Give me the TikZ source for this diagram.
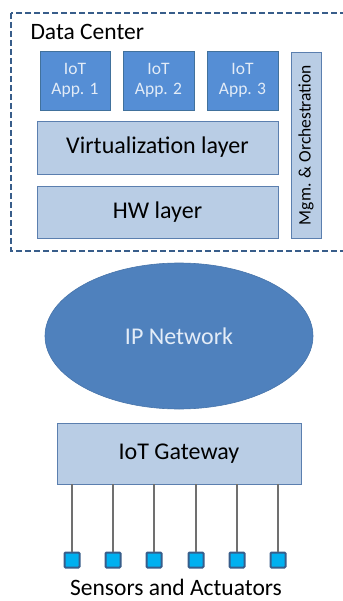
\documentclass[tikz,border=0pt]{standalone}
\usepackage{fontspec}
\setmainfont{Carlito}
\usetikzlibrary{shapes.geometric}
\definecolor{darkb}{HTML}{385D8A}
\definecolor{appfill}{HTML}{558ED5}
\definecolor{appdraw}{HTML}{41719C}
\definecolor{lightfill}{HTML}{B9CDE5}
\definecolor{lightdraw}{HTML}{5B7FAF}
\definecolor{ellfill}{HTML}{4F81BD}
\definecolor{sensfill}{HTML}{00B0F0}
\definecolor{apptext}{HTML}{E3ECF7}
\definecolor{wire}{HTML}{707070}
\tikzset{
  appbox/.style={draw=appdraw, fill=appfill, line width=0.8pt, minimum width=70pt, minimum height=59pt, inner sep=0pt, align=center, text=apptext, font=\fontsize{17.5}{20}\selectfont},
  layerbox/.style={draw=lightdraw, fill=lightfill, line width=0.8pt, inner sep=0pt, font=\fontsize{24}{28}\selectfont},
  sensor/.style={draw=darkb, fill=sensfill, line width=2pt, minimum size=15pt, inner sep=0pt, rounded corners=1pt},
  wireline/.style={draw=wire, line width=1.2pt}
}
\begin{document}
\begin{tikzpicture}[x=1pt,y=-1pt]
\useasboundingbox (0,0) rectangle (342,601);
% data center dashed box
\draw[darkb, line width=2pt, dash pattern=on 6pt off 3pt] (11,13) rectangle (350,251);
\node[anchor=west, font=\fontsize{23.5}{26}\selectfont] (dc) at (27,32) {Data Center};
% apps
\node[appbox] (app1) at (75,80.5) {IoT\\App. 1};
\node[appbox, minimum width=71pt] (app2) at (158.5,80.5) {IoT\\App. 2};
\node[appbox, minimum width=71pt] (app3) at (242.5,80.5) {IoT\\App. 3};
\node[layerbox, minimum width=241pt, minimum height=53pt] (virt) at (157.5,147.5) {Virtualization layer};
\node[layerbox, minimum width=241pt, minimum height=52pt] (hw) at (157.5,212) {HW layer};
\node[layerbox, minimum width=30pt, minimum height=186pt] (mgm) at (306,145) {};
\node[rotate=90, font=\fontsize{17.5}{20}\selectfont] (mgmt) at (mgm.center) {Mgm. \& Orchestration};
% IP network
\node[ellipse, fill=ellfill, draw=ellfill!90!black, line width=0.6pt, minimum width=268pt, minimum height=146pt, inner sep=0pt, text=apptext, font=\fontsize{24}{28}\selectfont] (ip) at (179,336) {IP Network};
% gateway
\node[layerbox, minimum width=244pt, minimum height=61pt] (gw) at (179,453.5) {IoT Gateway};
% sensors
\foreach \i/\x in {1/72,2/113,3/154,4/196,5/237,6/278}{
  \node[sensor] (s\i) at (\x,560) {};
  \draw[wireline] (s\i.north |- gw.south) -- (s\i.north);
}
\node[anchor=base, inner sep=0pt, font=\fontsize{23.5}{26}\selectfont] (sa) at (176,595) {Sensors and Actuators};
\end{tikzpicture}
\end{document}
